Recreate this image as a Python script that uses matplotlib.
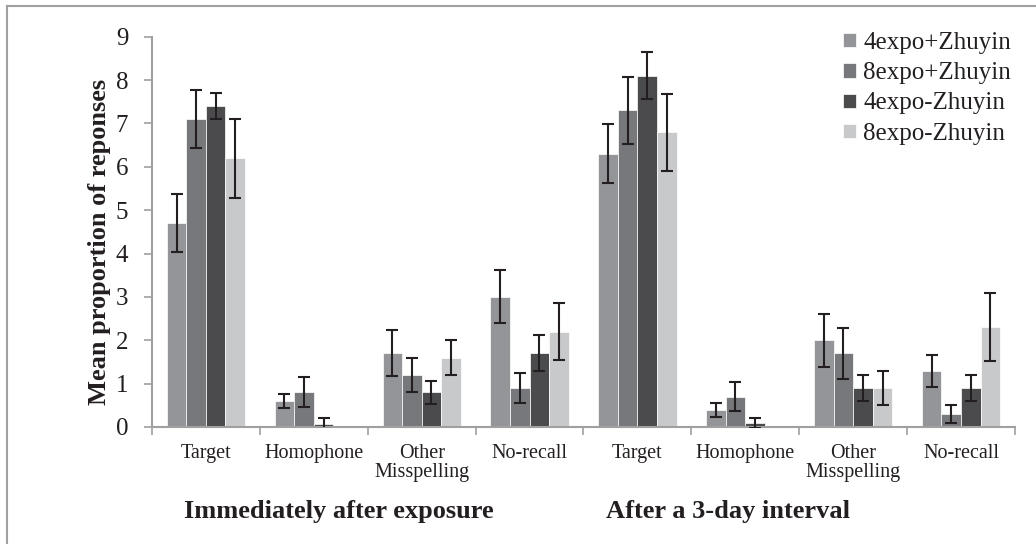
import numpy as np
import matplotlib.pyplot as plt
from matplotlib.lines import Line2D

plt.rcParams['font.family'] = ['Liberation Serif', 'DejaVu Serif']

categories = ["Target", "Homophone", "Other\nMisspelling", "No-recall",
              "Target", "Homophone", "Other\nMisspelling", "No-recall"]
series_names = ["4expo+Zhuyin", "8expo+Zhuyin", "4expo-Zhuyin", "8expo-Zhuyin"]

expo4_plus = [4.7, 0.6, 1.7, 3.0, 6.3, 0.4, 2.0, 1.3]
expo8_plus = [7.1, 0.8, 1.2, 0.9, 7.3, 0.7, 1.7, 0.3]
expo4_minus = [7.4, 0.08, 0.8, 1.7, 8.1, 0.09, 0.9, 0.9]
expo8_minus = [6.2, 0.02, 1.6, 2.2, 6.8, 0.02, 0.9, 2.3]

err4_plus = [0.67, 0.16, 0.53, 0.61, 0.68, 0.16, 0.61, 0.37]
err8_plus = [0.67, 0.35, 0.39, 0.35, 0.78, 0.33, 0.59, 0.21]
err4_minus = [0.30, 0.12, 0.26, 0.42, 0.54, 0.11, 0.31, 0.31]
err8_minus = [0.91, 0.0, 0.40, 0.66, 0.89, 0.0, 0.40, 0.78]

group_labels = ["Immediately after exposure", "After a 3-day interval"]

colors = ["#939598", "#77787b", "#4b4b4d", "#c8c9cb"]
values = [expo4_plus, expo8_plus, expo4_minus, expo8_minus]
errors = [err4_plus, err8_plus, err4_minus, err8_minus]

fig = plt.figure(figsize=(10.36, 5.44), dpi=100)
ax = fig.add_axes([0.1467, 0.2151, 0.8330, 0.7174])

x = np.arange(len(categories))
w = 0.1815
for i in range(4):
    pos = x + (i - 1.5) * w
    ax.bar(pos, values[i], width=w, color=colors[i], edgecolor="white",
           linewidth=0.5, label=series_names[i], zorder=2)
    err = np.array(errors[i])
    mask = err > 0
    ax.errorbar(pos[mask], np.array(values[i])[mask], yerr=err[mask], fmt="none",
                ecolor="#231f20", elinewidth=1.5, capsize=4.5, capthick=1.5, zorder=3)

ax.set_xlim(-0.5, len(categories) - 0.5)
ax.set_ylim(0, 9)
ax.set_yticks(range(10))
ax.set_xticks(x)
ax.set_xticklabels(categories, fontsize=14.5, color="#231f20", linespacing=1.0)
ax.set_xticks(np.arange(-0.5, len(categories)), minor=True)
ax.tick_params(axis="x", which="major", length=0, pad=12)
ax.tick_params(axis="x", which="minor", length=6, color="#a0a0a0", width=1.2)
ax.tick_params(axis="y", length=6, color="#a0a0a0", width=1.2, labelsize=18,
               labelcolor="#231f20", pad=11)

for side in ["top", "right"]:
    ax.spines[side].set_visible(False)
for side in ["left", "bottom"]:
    ax.spines[side].set_color("#a0a0a0")
    ax.spines[side].set_linewidth(1.5)

fig.text(99.5 / 1036, 1 - 241.5 / 544, "Mean proportion of reponses", fontsize=19,
         fontweight="bold", color="#231f20", rotation=90, ha="center", va="center")

fig.text(0.327, 0.06, group_labels[0], fontsize=19, fontweight="bold",
         color="#231f20", ha="center", va="center")
fig.text(0.703, 0.06, group_labels[1], fontsize=19, fontweight="bold",
         color="#231f20", ha="center", va="center")

leg = ax.legend(loc="upper left", bbox_to_anchor=(843 / 1036, 1 - 32 / 544),
                bbox_transform=fig.transFigure, frameon=False,
                fontsize=18, handlelength=0.5, handleheight=0.5,
                handletextpad=0.3, labelspacing=0.33, borderpad=0,
                borderaxespad=0)
for t in leg.get_texts():
    t.set_color("#231f20")

# frame lines of the cropped figure
fig.add_artist(Line2D([7 / 1036, 1.0], [1 - 6 / 544, 1 - 6 / 544],
                      color="#a0a0a0", linewidth=1.5, transform=fig.transFigure))
fig.add_artist(Line2D([7 / 1036, 7 / 1036], [0.0, 1 - 6 / 544],
                      color="#a0a0a0", linewidth=1.5, transform=fig.transFigure))

fig.savefig("out.png", dpi=100)
